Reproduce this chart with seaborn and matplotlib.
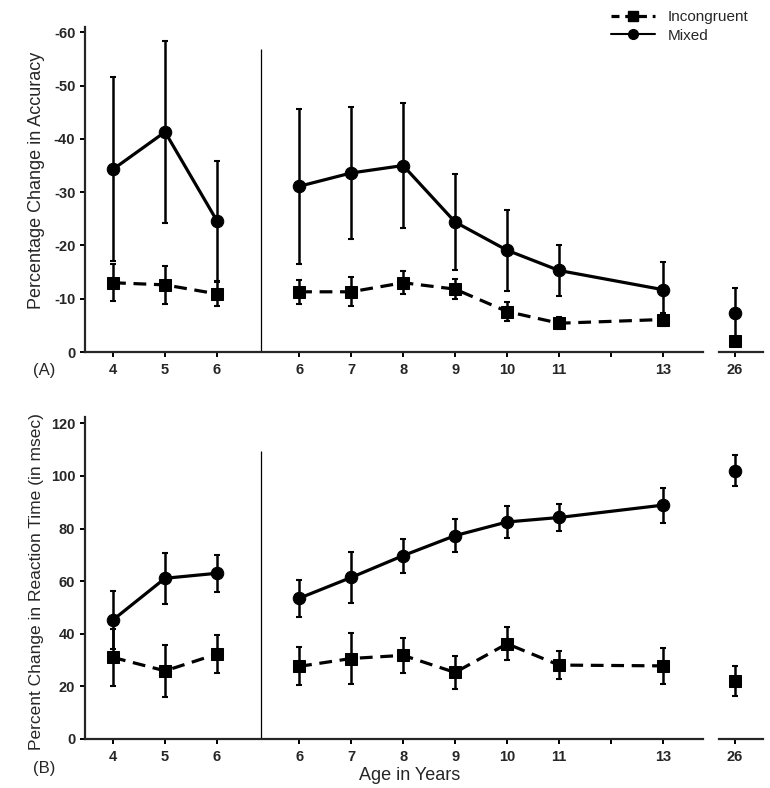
import matplotlib
matplotlib.use("Agg")
import matplotlib.pyplot as plt
import seaborn as sns
import pandas as pd
from matplotlib.lines import Line2D

# ages: preschool group, school group, adults
young_ages = [4, 5, 6]
school_ages = [6, 7, 8, 9, 10, 11, 13]
adult_ages = [26]

# (A) percentage change in accuracy, values in order young + school + adult
acc_mixed = [-34.3, -41.3, -24.6, -31.1, -33.6, -35.0, -24.4, -19.1, -15.3, -11.7, -7.4]
acc_mixed_err = [17.3, 17.1, 11.3, 14.5, 12.3, 11.8, 9.0, 7.6, 4.7, 5.2, 4.6]
acc_incong = [-13.0, -12.6, -10.9, -11.3, -11.3, -13.0, -11.8, -7.6, -5.4, -6.1, -2.1]
acc_incong_err = [3.5, 3.6, 2.2, 2.3, 2.7, 2.2, 1.9, 1.7, 1.1, 1.3, 0.7]

# (B) percent change in reaction time
rt_mixed = [45.3, 61.1, 63.0, 53.5, 61.4, 69.7, 77.3, 82.5, 84.2, 88.9, 102.0]
rt_mixed_err = [11.0, 9.7, 7.0, 7.0, 9.7, 6.5, 6.2, 6.0, 5.0, 6.7, 6.0]
rt_incong = [31.0, 25.9, 32.3, 27.6, 30.6, 31.8, 25.3, 36.2, 28.1, 27.8, 22.1]
rt_incong_err = [11.0, 10.0, 7.3, 7.2, 9.8, 6.7, 6.2, 6.3, 5.3, 6.8, 5.8]

acc_ticks = [0, -10, -20, -30, -40, -50, -60]
rt_ticks = [0, 20, 40, 60, 80, 100, 120]
school_tick_ages = [6, 7, 8, 9, 10, 11, 12, 13]
school_tick_labels = ["6", "7", "8", "9", "10", "11", "", "13"]

GAP = 1.58  # shift of the school group on the shared axis

sns.set_style("ticks")
plt.rcParams["font.family"] = ["Liberation Sans", "DejaVu Sans"]
plt.rcParams["axes.unicode_minus"] = False

groups = ["young"] * 3 + ["school"] * 7 + ["adult"]
pos = [a for a in young_ages] + [a + GAP for a in school_ages] + adult_ages


def make_df(mixed, mixed_err, incong, incong_err):
    return pd.DataFrame({"group": groups, "pos": pos,
                         "mixed": mixed, "mixed_err": mixed_err,
                         "incong": incong, "incong_err": incong_err})


def draw_panel(ax, ax26, df, ylim, sep_top, yticks):
    for col, ls, mk, ms in [("incong", (0, (4, 2.4)), "s", 8), ("mixed", "-", "o", 9)]:
        for grp, a in [("young", ax), ("school", ax), ("adult", ax26)]:
            sub = df[df.group == grp]
            a.errorbar(sub.pos, sub[col], yerr=sub[col + "_err"], fmt="none",
                       ecolor="black", elinewidth=1.8, capsize=2.5, capthick=1.5, zorder=2)
            sns.lineplot(x=sub.pos.values, y=sub[col].values, ax=a, color="black",
                         linestyle=ls if grp != "adult" else "none", linewidth=2.3,
                         marker=mk, markersize=ms, markeredgecolor="black", zorder=3)

    ax.vlines(6.846, 0, sep_top, color="black", linewidth=0.9)

    ax.set_xlim(3.46, 15.35)
    ax.set_xticks(young_ages + [a + GAP for a in school_tick_ages])
    ax.set_xticklabels([str(a) for a in young_ages] + school_tick_labels)
    ax.set_ylim(*ylim)
    ax.set_yticks(yticks)
    ax.set_yticklabels([str(t) for t in yticks])
    ax26.set_ylim(*ylim)
    ax26.set_xlim(25.69, 26.54)
    ax26.set_xticks(adult_ages)
    ax26.set_xticklabels([str(a) for a in adult_ages])
    ax26.set_yticks([])

    for a in (ax, ax26):
        for s in ("top", "right"):
            a.spines[s].set_visible(False)
        for s in ("left", "bottom"):
            a.spines[s].set_linewidth(1.6)
        a.tick_params(axis="both", length=3.5, width=1.4, labelsize=10.5, color="black")
        a.tick_params(axis="x", pad=4.5)
        a.set_xlabel("")
        a.set_ylabel("")
        plt.setp(a.get_xticklabels() + a.get_yticklabels(), fontweight="bold")
    ax26.spines["left"].set_visible(False)


fig = plt.figure(figsize=(7.7, 7.88), dpi=100)
W, H = 770, 788

axA = fig.add_axes([85 / W, 1 - 352 / H, 618 / W, 325 / H])
axA26 = fig.add_axes([719 / W, 1 - 352 / H, 44 / W, 325 / H])
axB = fig.add_axes([85 / W, 1 - 739 / H, 618 / W, 322 / H])
axB26 = fig.add_axes([719 / W, 1 - 739 / H, 44 / W, 322 / H])

draw_panel(axA, axA26, make_df(acc_mixed, acc_mixed_err, acc_incong, acc_incong_err),
           (0, -61), -56.8, acc_ticks)
draw_panel(axB, axB26, make_df(rt_mixed, rt_mixed_err, rt_incong, rt_incong_err),
           (0, 122.4), 109.5, rt_ticks)

fig.text(37 / W, 1 - 180 / H, "Percentage Change in Accuracy", rotation=90,
         ha="center", va="center", fontsize=13)
fig.text(37 / W, 1 - 582 / H, "Percent Change in Reaction Time (in msec)", rotation=90,
         ha="center", va="center", fontsize=12.5)
fig.text(44 / W, 1 - 370 / H, "(A)", ha="center", va="center", fontsize=12)
fig.text(44 / W, 1 - 768 / H, "(B)", ha="center", va="center", fontsize=12)
fig.text(410 / W, 1 - 775 / H, "Age in Years", ha="center", va="center", fontsize=13)

handles = [
    Line2D([], [], color="black", linestyle=(0, (2.5, 1.8)), linewidth=2.3, marker="s", markersize=7),
    Line2D([], [], color="black", linestyle="-", linewidth=1.5, marker="o", markersize=7),
]
fig.legend(handles, ["Incongruent", "Mixed"], loc="upper left",
           bbox_to_anchor=(605 / W, 1 - 4 / H), frameon=False, fontsize=11,
           handlelength=2.9, handletextpad=0.8, labelspacing=0.3, borderaxespad=0)

fig.savefig("out.png", dpi=100)
